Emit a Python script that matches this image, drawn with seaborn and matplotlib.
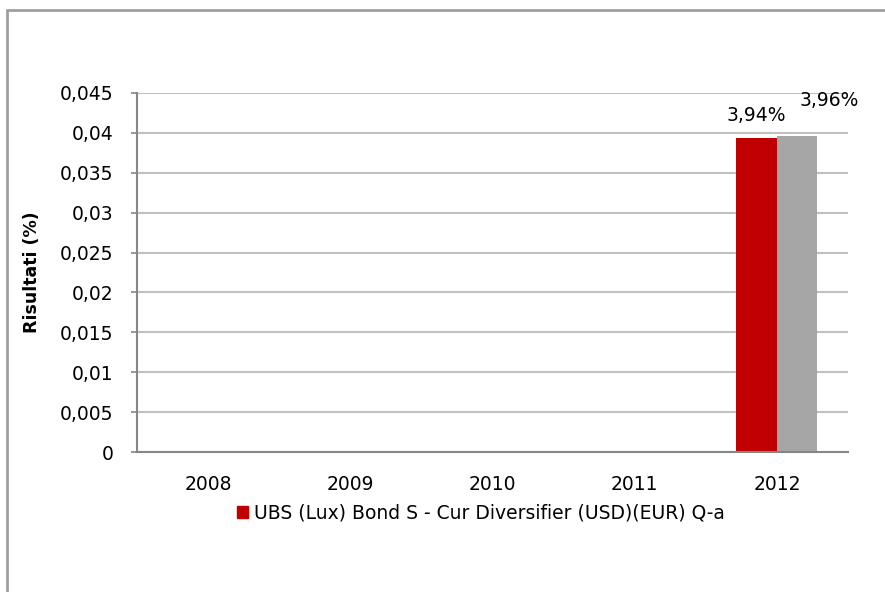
import numpy as np
import pandas as pd
import matplotlib
matplotlib.use("Agg")
import matplotlib.pyplot as plt
import seaborn as sns
from matplotlib.lines import Line2D
from matplotlib.ticker import FuncFormatter

# DATA
YEARS = ["2008", "2009", "2010", "2011", "2012"]
FUND_NAME = "UBS (Lux) Bond S - Cur Diversifier (USD)(EUR) Q-a"
BENCH_NAME = "Benchmark"
FUND_VALUES = [np.nan, np.nan, np.nan, np.nan, 0.0394]
BENCH_VALUES = [np.nan, np.nan, np.nan, np.nan, 0.0396]
LABELS = ["3,94%", "3,96%"]
Y_TICKS = [0, 0.005, 0.01, 0.015, 0.02, 0.025, 0.03, 0.035, 0.04, 0.045]

RED = "#c00000"
GREY = "#a6a6a6"
AXIS_GREY = "#868686"
FS = 13.5

df = pd.DataFrame({
    "year": YEARS * 2,
    "serie": [FUND_NAME] * len(YEARS) + [BENCH_NAME] * len(YEARS),
    "value": FUND_VALUES + BENCH_VALUES,
})

sns.set_theme(style="white")
plt.rcParams["font.family"] = ["DejaVu Sans"]
plt.rcParams["text.color"] = "black"
plt.rcParams["xtick.labelcolor"] = "black"
plt.rcParams["ytick.labelcolor"] = "black"
plt.rcParams["axes.labelcolor"] = "black"

fig = plt.figure(figsize=(8.85, 5.92), dpi=100)
ax = fig.add_axes([137 / 885, 1 - 452 / 592, (848 - 137) / 885, (452 - 93) / 592])

sns.barplot(data=df, x="year", y="value", hue="serie", order=YEARS,
            hue_order=[FUND_NAME, BENCH_NAME], palette=[RED, GREY],
            width=0.57, gap=0, saturation=1, linewidth=0, ax=ax, legend=False)

# outer frame (only left and top visible)
fig.add_artist(Line2D([7 / 885, 7 / 885], [0, 1 - 10 / 592], color="#a0a0a0", lw=2,
                      transform=fig.transFigure))
fig.add_artist(Line2D([7 / 885, 1], [1 - 10 / 592, 1 - 10 / 592], color="#a0a0a0", lw=2,
                      transform=fig.transFigure))

ax.set_xlim(-0.5, 4.5)
ax.set_ylim(0, 0.045)
ax.set_yticks(Y_TICKS)
ax.yaxis.set_major_formatter(FuncFormatter(
    lambda v, p: "0" if v == 0 else f"{v:g}".replace(".", ",")))
ax.set_xticks(range(len(YEARS)))
ax.set_xticklabels(YEARS)
ax.set_xticks(np.arange(-0.5, 5, 1), minor=True)
ax.tick_params(axis="x", which="major", length=0, pad=16.5, labelsize=FS)
ax.tick_params(axis="x", which="minor", length=4, width=1.2, color=AXIS_GREY, direction="out")
ax.tick_params(axis="y", length=4, width=1.2, color=AXIS_GREY, direction="out",
               left=True, pad=13, labelsize=FS)

ax.yaxis.grid(True, color="#c0c0c0", lw=1.5)
ax.set_axisbelow(True)
for side in ["top", "right"]:
    ax.spines[side].set_visible(False)
for side in ["left", "bottom"]:
    ax.spines[side].set_color(AXIS_GREY)
    ax.spines[side].set_linewidth(1.5)

ax.set_xlabel("")
ax.set_ylabel("Risultati (%)", fontsize=12.5, fontweight="bold")
ax.yaxis.set_label_coords((41 - 137) / (848 - 137), 0.5)

# value labels
bars = [p for p in ax.patches if not np.isnan(p.get_height()) and p.get_height() > 0]
offsets = [(0, 12), (23, 21.5)]
for bar, lab, off in zip(bars, LABELS, offsets):
    ax.annotate(lab, (bar.get_x() + bar.get_width() / 2, bar.get_height()),
                xytext=off, textcoords="offset points", ha="center", va="baseline",
                fontsize=FS, annotation_clip=False)

# legend (fund only)
handle = plt.Rectangle((0, 0), 1, 1, color=RED)
fig.legend([handle], [FUND_NAME], loc="center", bbox_to_anchor=(481 / 885, 1 - 513 / 592),
           frameon=False, fontsize=FS, handlelength=0.6, handleheight=0.6,
           handletextpad=0.3, borderpad=0)

fig.savefig("out.png", dpi=100)
